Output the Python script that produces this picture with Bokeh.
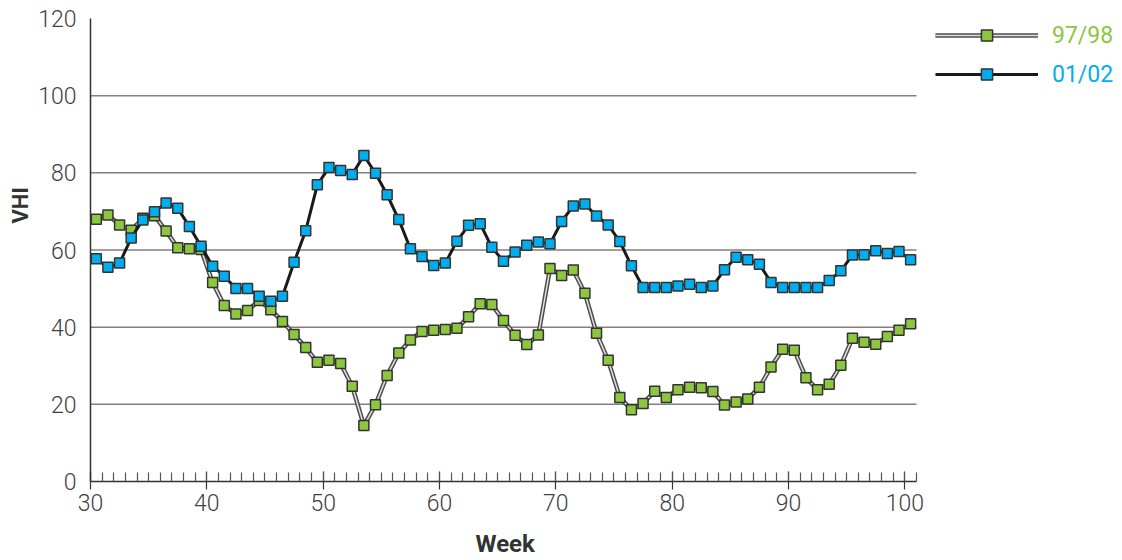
import numpy as np
from bokeh.plotting import figure
from bokeh.models import (Legend, LegendItem, FixedTicker, Title,
                          SingleIntervalTicker, ColumnDataSource, Range1d)
from bokeh.embed import file_html
from bokeh.resources import INLINE

# Weekly vegetation health index for two seasons
weeks = np.arange(30.5, 101.0, 1.0)

vhi_9798 = [68.0, 69.1, 66.5, 65.1, 68.2, 68.9, 64.9, 60.6, 60.3, 60.1,
            51.6, 45.6, 43.4, 44.3, 46.9, 44.5, 41.5, 38.1, 34.7, 30.9,
            31.4, 30.6, 24.7, 14.5, 19.9, 27.5, 33.3, 36.7, 38.9, 39.2,
            39.4, 39.7, 42.7, 46.1, 45.9, 41.7, 37.9, 35.5, 38.0, 55.2,
            53.4, 54.8, 48.8, 38.4, 31.4, 21.8, 18.6, 20.2, 23.4, 21.8,
            23.8, 24.4, 24.3, 23.3, 19.8, 20.6, 21.4, 24.4, 29.7, 34.3,
            34.0, 26.9, 23.8, 25.2, 30.1, 37.1, 36.1, 35.6, 37.6, 39.2,
            40.9]

vhi_0102 = [57.7, 55.5, 56.6, 63.1, 67.8, 69.9, 72.2, 70.8, 66.1, 61.0,
            55.8, 53.2, 50.0, 50.0, 48.0, 46.7, 48.0, 56.8, 65.0, 76.9,
            81.4, 80.6, 79.6, 84.5, 79.9, 74.3, 67.9, 60.3, 58.3, 56.0,
            56.6, 62.3, 66.4, 66.8, 60.7, 57.1, 59.5, 61.2, 62.1, 61.6,
            67.4, 71.4, 71.9, 68.8, 66.5, 62.2, 55.9, 50.3, 50.3, 50.3,
            50.7, 51.1, 50.3, 50.7, 54.9, 58.1, 57.5, 56.3, 51.6, 50.3,
            50.3, 50.3, 50.3, 52.1, 54.6, 58.7, 58.8, 59.8, 59.1, 59.6,
            57.5]

labels = ["97/98", "01/02"]
x_ticks_major = 10
x_axis_span = (30, 101)
y_ticks = [0, 20, 40, 60, 80, 100, 120]
grid_levels = [20, 40, 60, 80, 100]

GREEN = "#8dc63f"
BLUE = "#00aeef"
TEXT = "#404040"
FONT = "Roboto"
LIGHT = "'Roboto Light', Roboto"

src_a = ColumnDataSource(dict(x=weeks, y=vhi_9798))
src_b = ColumnDataSource(dict(x=weeks, y=vhi_0102))

# The frame reaches the right edge so the key can sit beside the axes;
# the axis itself only spans weeks 30-101.
FRAME_W = 1032
PX_PER_WEEK = 11.633
p = figure(frame_width=FRAME_W, frame_height=463,
           min_border_left=90, min_border_right=0,
           min_border_top=18, min_border_bottom=79,
           x_range=Range1d(x_axis_span[0], x_axis_span[0] + FRAME_W / PX_PER_WEEK),
           y_range=Range1d(0, 120),
           output_backend="svg", toolbar_location=None)

p.outline_line_color = None
p.xgrid.visible = False
p.ygrid.visible = False

# horizontal reference lines across the axis span
p.segment(x0=x_axis_span[0], x1=x_axis_span[1], y0=grid_levels, y1=grid_levels,
          line_color="#808080", line_width=1.5)

# x axis
xa = p.xaxis[0]
xa.bounds = x_axis_span
xa.ticker = SingleIntervalTicker(interval=x_ticks_major, num_minor_ticks=10)
xa.axis_line_color = "#333333"
xa.axis_line_width = 1.5
xa.major_tick_line_color = "#333333"
xa.major_tick_line_width = 1.2
xa.major_tick_in = 10
xa.major_tick_out = 8
xa.minor_tick_line_color = "#555555"
xa.minor_tick_line_width = 1.2
xa.minor_tick_in = 9
xa.minor_tick_out = 0
xa.major_label_text_font = LIGHT
xa.major_label_text_font_size = "23px"
xa.major_label_text_color = TEXT
xa.major_label_standoff = 4
# a blank spacer label leaves room between tick labels and the axis title
xa.axis_label = "\u00a0"
xa.axis_label_text_font_size = "10px"
xa.axis_label_standoff = 0

# y axis
ya = p.yaxis[0]
ya.ticker = FixedTicker(ticks=y_ticks)
ya.axis_line_color = "#333333"
ya.axis_line_width = 1.5
ya.major_tick_in = 0
ya.major_tick_out = 0
ya.minor_tick_line_color = None
ya.major_label_text_font = LIGHT
ya.major_label_text_font_size = "23px"
ya.major_label_text_color = TEXT
ya.major_label_standoff = 14

# axis titles, centred on the axis span rather than the whole frame
p.add_layout(Title(text="VHI", align="left", offset=258,
                   text_font=FONT, text_font_style="bold",
                   text_font_size="22px", text_color="#333333",
                   standoff=6), "left")
p.add_layout(Title(text="Week", align="left", offset=385,
                   vertical_align="bottom",
                   text_font=FONT, text_font_style="bold",
                   text_font_size="24px", text_color="#333333",
                   standoff=0), "below")

# season 97/98: double-stroked line
a_outer = p.line("x", "y", source=src_a, line_color="#4d4d4d", line_width=4.5)
a_inner = p.line("x", "y", source=src_a, line_color="#e0e0e0", line_width=1.5)
a_pts = p.scatter("x", "y", source=src_a, marker="square", size=10,
                  fill_color=GREEN, line_color="#333333", line_width=1.5)

# season 01/02
b_line = p.line("x", "y", source=src_b, line_color="#1a1a1a", line_width=3)
b_pts = p.scatter("x", "y", source=src_b, marker="square", size=10,
                  fill_color=BLUE, line_color="#333333", line_width=1.5)


def make_legend(label, renderers, color, loc):
    return Legend(items=[LegendItem(label=label, renderers=renderers)],
                  location=loc, glyph_width=103, glyph_height=28,
                  label_height=20, label_standoff=14,
                  label_text_font=FONT, label_text_font_size="23px",
                  label_text_color=color, label_text_baseline="middle",
                  padding=0, margin=0, spacing=0,
                  border_line_color=None, background_fill_alpha=0)


p.add_layout(make_legend(labels[0], [a_outer, a_inner, a_pts], GREEN, (845, 432)))
p.add_layout(make_legend(labels[1], [b_line, b_pts], BLUE, (845, 393)))

open("out.html", "w").write(file_html(p, INLINE))
